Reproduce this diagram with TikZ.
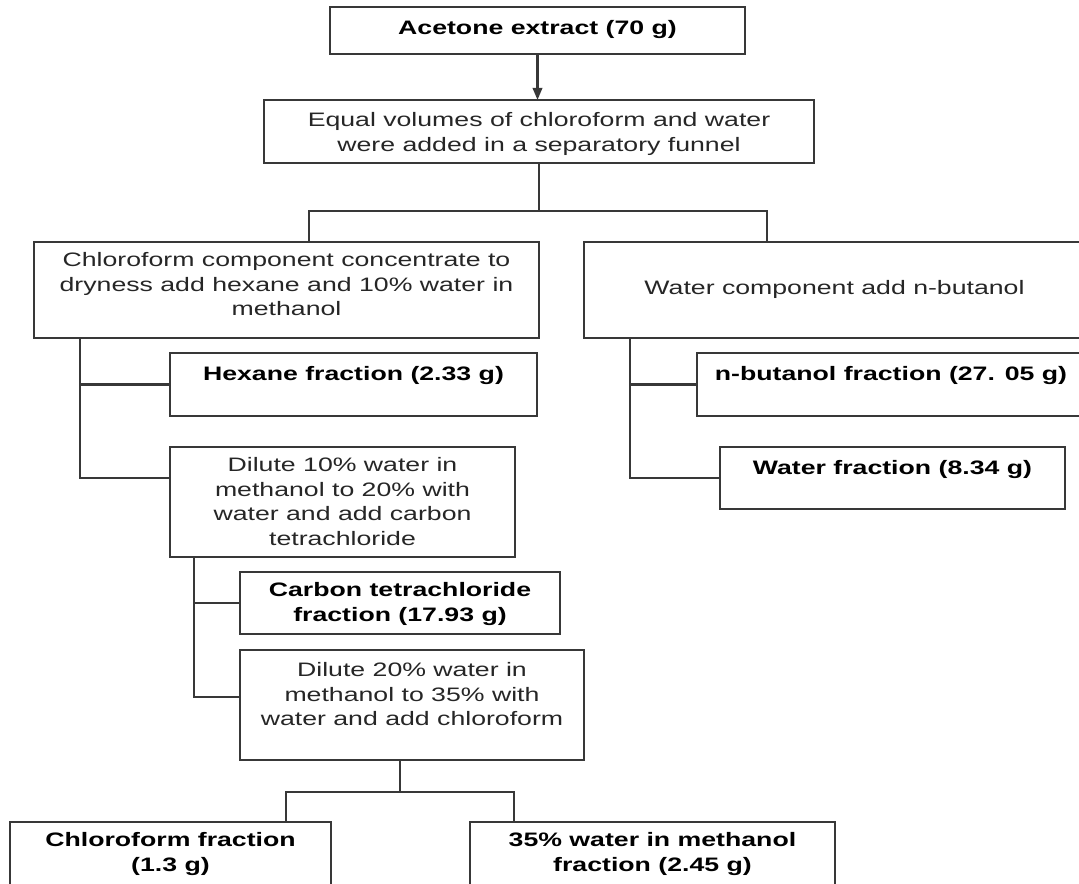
\documentclass[tikz,border=0pt]{standalone}
\usepackage{fontspec}
\setmainfont{Liberation Sans}[FakeStretch=1.37]
\usetikzlibrary{calc,arrows.meta}
\begin{document}
\begin{tikzpicture}[x=0.75pt,y=-0.75pt,
  conn/.style={draw=black!78, line width=1.7pt},
  box/.style 2 args={conn, rectangle, minimum width=#1*0.75pt, minimum height=#2*0.75pt, anchor=north west, inner sep=0pt, outer sep=0pt},
  txt/.style={anchor=north, align=center, inner sep=0pt, outer sep=0pt, font=\fontsize{14.6pt}{18.4pt}\selectfont, execute at begin node=\strut, text=black!85},
  btxt/.style={txt, font=\fontsize{14.6pt}{18.4pt}\selectfont\bfseries, text=black},
  arr/.style={conn, -{Triangle[length=9pt,width=7pt]}},
]
\useasboundingbox (0,0) rectangle (1079,884);
\fill[white] (0,0) rectangle (1079,884);

% boxes and texts
\node[box={415}{47}] (acet) at (330,7) {};
\node[btxt] (tacet) at ([yshift=-8.1pt]acet.north) {Acetone extract (70 g)};

\node[box={550}{63}] (eq) at (264,100) {};
\node[txt] (teq) at ([yshift=-9.6pt]eq.north) {Equal volumes of chloroform and water\\were added in a separatory funnel};

\node[box={505}{96}] (chl) at (34,242) {};
\node[txt] (tchl) at ([yshift=-8.1pt]chl.north) {Chloroform component concentrate to\\dryness add hexane and 10\% water in\\methanol};

\node[box={501}{96}] (wat) at (584,242) {};
\node[txt, anchor=center] (twat) at (wat.center) {Water component add n-butanol};

\node[box={367}{63}] (hex) at (170,353) {};
\node[btxt] (thex) at ([yshift=-8.1pt]hex.north) {Hexane fraction (2.33 g)};

\node[box={388}{63}] (but) at (697,353) {};
\node[btxt] (tbut) at ([yshift=-8.1pt]but.north) {n-butanol fraction (27. 05 g)};

\node[box={345}{110}] (dil1) at (170,447) {};
\node[txt] (tdil1) at ([yshift=-8.1pt]dil1.north) {Dilute 10\% water in\\methanol to 20\% with\\water and add carbon\\tetrachloride};

\node[box={345}{62}] (wf) at (720,447) {};
\node[btxt] (twf) at ([yshift=-8.1pt]wf.north) {Water fraction (8.34 g)};

\node[box={320}{62}] (ctc) at (240,572) {};
\node[btxt] (tctc) at ([yshift=-8.1pt]ctc.north) {Carbon tetrachloride\\fraction (17.93 g)};

\node[box={344}{110}] (dil2) at (240,650) {};
\node[txt] (tdil2) at ([yshift=-9.6pt]dil2.north) {Dilute 20\% water in\\methanol to 35\% with\\water and add chloroform};

\node[box={321}{75}] (cf) at (10,822) {};
\node[btxt] (tcf) at ([yshift=-8.1pt]cf.north) {Chloroform fraction\\(1.3 g)};

\node[box={365}{75}] (pf) at (470,822) {};
\node[btxt] (tpf) at ([yshift=-8.1pt]pf.north) {35\% water in methanol\\fraction (2.45 g)};

% connectors
\draw[arr] (acet.south) -- (acet.south |- eq.north);

\coordinate (j1) at ($(eq.south)+(0,48)$);
\draw[conn] (eq.south) -- (j1);
\draw[conn] ($(chl.north west)+(275,0)$) |- (j1) -| ($(wat.north west)+(183,0)$);

\coordinate (t1) at ($(chl.south west)+(46,0)$);
\draw[conn] (t1) |- (hex.west);
\draw[conn] (t1) |- ($(dil1.north west)+(0,31)$);

\coordinate (t2) at ($(wat.south west)+(46,0)$);
\draw[conn] (t2) |- (but.west);
\draw[conn] (t2) |- (wf.west);

\coordinate (t3) at ($(dil1.south west)+(24,0)$);
\draw[conn] (t3) |- (ctc.west);
\draw[conn] (t3) |- ($(dil2.north west)+(0,47)$);

\coordinate (j2) at ($(dil2.south)+(-12,32)$);
\draw[conn] ($(dil2.south)+(-12,0)$) -- (j2);
\draw[conn] ($(cf.north west)+(276,0)$) |- (j2) -| ($(pf.north west)+(44,0)$);
\end{tikzpicture}
\end{document}
